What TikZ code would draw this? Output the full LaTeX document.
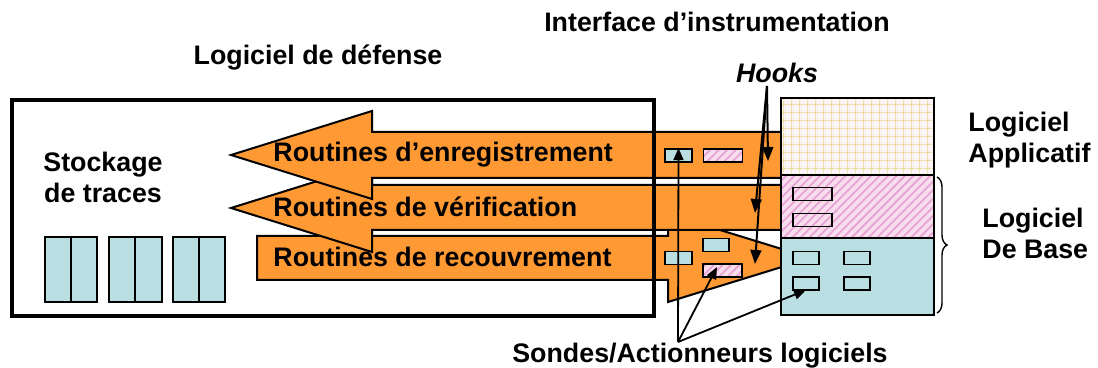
\documentclass[tikz,border=0pt]{standalone}
\usepackage{fontspec}
\setmainfont{Liberation Sans}
\usetikzlibrary{patterns.meta,decorations.pathreplacing,arrows.meta}
\definecolor{orangeA}{HTML}{FF9933}
\definecolor{blueA}{HTML}{BADFE2}
\definecolor{pinkbg}{HTML}{F8DDEF}
\definecolor{pinkln}{HTML}{E7A3D3}
\definecolor{gridbg}{HTML}{FCF5F8}
\definecolor{gridln}{HTML}{E9DC9C}
\tikzset{
  lbl/.style={font=\fontsize{13.4}{15.5}\selectfont\bfseries, inner sep=0pt},
  bigarrow/.style={fill=orangeA, draw=black, line width=1pt, line join=miter},
  hatchpink/.style={preaction={fill=pinkbg}, pattern={Lines[angle=45,distance=3pt,line width=0.9pt]}, pattern color=pinkln},
  gridfill/.style={preaction={fill=gridbg}, pattern={Hatch[angle=0,distance=4pt,line width=0.5pt]}, pattern color=gridln},
  sbox/.style={draw=black, line width=0.9pt, inner sep=0pt, minimum height=6.5pt},
  bluebox/.style={sbox, fill=blueA, minimum width=13.5pt},
  pinkbox/.style={sbox, hatchpink, minimum width=19.5pt},
  cell/.style={draw=black, line width=1pt, fill=blueA},
  hookarrow/.style={line width=1pt, -{Triangle[length=7pt,width=5.5pt]}},
  probearrow/.style={line width=0.9pt, -{Triangle[length=6pt,width=5pt]}},
  layer/.style={draw=black, line width=1pt}
}
\begin{document}
\begin{tikzpicture}[x=0.5pt,y=-0.5pt]
\useasboundingbox (0,0) rectangle (1098,368);
% storage cells
\foreach \a/\b/\c in {45/71/97,109/135/162,173/199/225}{
  \draw[cell] (\a,237) rectangle (\b,302);
  \draw[cell] (\b,237) rectangle (\c,302);
}
% big arrows (back to front)
\draw[bigarrow] (257,236) -- (668,236) -- (668,214) -- (811,258) -- (668,302) -- (668,280) -- (257,280) -- cycle;
\draw[bigarrow] (231,208) -- (372,164) -- (372,185) -- (781,185) -- (781,230) -- (372,230) -- (372,252) -- cycle;
\draw[bigarrow] (231,155) -- (372,111) -- (372,132) -- (781,132) -- (781,178) -- (372,178) -- (372,199) -- cycle;
% defense software frame
\draw[line width=2.3pt] (12,100) rectangle (654,316);
% software layers
\draw[layer, gridfill] (781,98) rectangle (934,175);
\draw[layer, hatchpink] (781,175) rectangle (934,238);
\draw[layer, fill=blueA] (781,238) rectangle (934,315);
% brace
\draw[line width=0.7pt, decorate, decoration={brace, amplitude=5pt}] (937,177) -- (937,313);
% small probe boxes
\node[bluebox] (a1b) at (678.5,155.5) {};
\node[pinkbox] (a1p) at (723,155.5) {};
\node[bluebox] (a3b1) at (678.5,258) {};
\node[bluebox, minimum width=13pt] (a3b2) at (716,245) {};
\node[pinkbox] (a3p) at (722.5,270.5) {};
\node[pinkbox] (pk1) at (812.5,194) {};
\node[pinkbox] (pk2) at (812.5,220) {};
\node[bluebox, minimum width=13pt] (bs1) at (806,258) {};
\node[bluebox, minimum width=13pt] (bs2) at (857,258) {};
\node[bluebox, minimum width=13pt] (bs3) at (806,283.5) {};
\node[bluebox, minimum width=13pt] (bs4) at (857,283.5) {};
% labels
\node[lbl] (defense) at (318,58) {Logiciel de défense};
\node[lbl] (iface) at (717,22) {Interface d’instrumentation};
\node[lbl, font=\fontsize{13.4}{15.5}\selectfont\bfseries\itshape] (hooks) at (777,73) {Hooks};
\node[lbl, align=center] (stock) at (103,177) {Stockage\\de traces};
\node[lbl, anchor=west] (r1) at (273,155) {Routines d’enregistrement};
\node[lbl, anchor=west] (r2) at (273,207) {Routines de vérification};
\node[lbl, anchor=west] (r3) at (273,257) {Routines de recouvrement};
\node[lbl, align=left, anchor=west] (appl) at (968,140) {Logiciel\\Applicatif};
\node[lbl, align=left, anchor=west] (base) at (982,233) {Logiciel\\De Base};
\node[lbl] (sondes) at (700,356) {Sondes/Actionneurs logiciels};
% hook arrows
\coordinate (hk) at (767,86);
\draw[hookarrow] (hk) -- (768,161);
\draw[hookarrow] (hk) -- (755,213);
\draw[hookarrow] (hk) -- (755,264);
% probe arrows
\coordinate (pr) at (678,342);
\draw[probearrow] (pr) -- (a1b.north);
\draw[probearrow] (pr) -- (717,267);
\draw[probearrow] (pr) -- (806,290);
\end{tikzpicture}
\end{document}
